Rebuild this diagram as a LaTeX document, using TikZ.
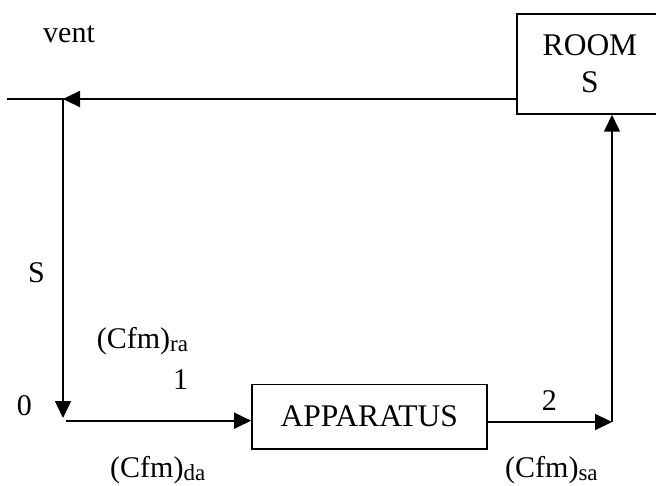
\documentclass[tikz,border=0pt]{standalone}
\usepackage{fontspec}
\setmainfont{Liberation Serif}
\usetikzlibrary{arrows.meta}
% lowered, smaller text for flow subscripts
\newcommand\flowsub[1]{\raisebox{-3pt}{\fontsize{23}{23}\selectfont #1}}
\begin{document}
\begin{tikzpicture}[x=1pt,y=-1pt,
  every node/.style={font=\fontsize{30}{36.7}\selectfont, inner sep=0pt},
  box/.style={draw, line width=1.5pt, font=\fontsize{31.5}{36.7}\selectfont, align=center},
  flow/.style={line width=1.5pt},
  tip/.style={-{Triangle[length=17pt,width=16pt]}},
  heavy/.style={line width=2.3pt, tip},
  lbl/.style={anchor=base west}
]
\useasboundingbox (0,0) rectangle (656,486);

% blocks
\node[box, minimum width=146pt, minimum height=100pt] (room) at (590,64) {ROOM\\S};
\node[box, minimum width=235pt, minimum height=64.7pt] (app) at (369.3,416.7) {APPARATUS};

% route points of the duct loop
\coordinate (ventend) at (7,99);
\coordinate (junc) at (63,99);
\coordinate (tail) at (130,99);
\coordinate (p0) at (63,418);
\coordinate (start1) at (66,420.7);
\coordinate (p2) at (612,422);

% return air from the room to the vent junction
\draw[flow] (room.west |- junc) -- (ventend);
\draw[heavy] (tail) -- (junc);
% down to point 0
\draw[flow, tip] (junc) -- (p0);
% into the apparatus
\draw[heavy] (start1) -- (app.west |- start1);
% out of the apparatus to point 2, then up to the room
\draw[heavy] (app.east |- p2) -- (p2);
\draw[flow, tip] (p2) -- (room.south -| p2);

% labels
\node[lbl] (lvent) at (43,42.3) {vent};
\node[lbl] (ls) at (28,283) {S};
\node[lbl] (lra) at (96.7,348.7) {(Cfm)\flowsub{ra}};
\node[lbl] (l1) at (173,389) {1};
\node[lbl] (l0) at (16.7,415) {0};
\node[lbl] (lda) at (110,477) {(Cfm)\flowsub{da}};
\node[lbl] (l2) at (541.7,410) {2};
\node[lbl] (lsa) at (505,477) {(Cfm)\flowsub{sa}};
\end{tikzpicture}
\end{document}
